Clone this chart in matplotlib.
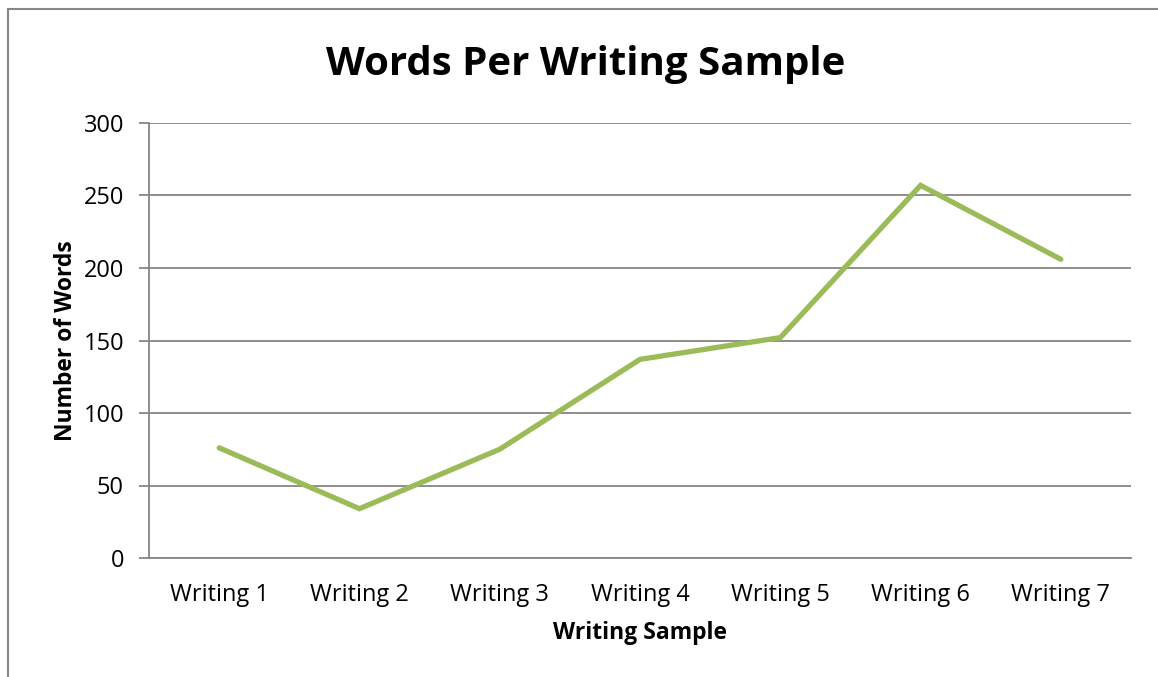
import matplotlib
matplotlib.use('Agg')
import matplotlib.pyplot as plt
from matplotlib.patches import Rectangle

plt.rcParams['font.family'] = ['Open Sans', 'DejaVu Sans']

# data
samples = ['Writing 1', 'Writing 2', 'Writing 3', 'Writing 4',
           'Writing 5', 'Writing 6', 'Writing 7']
words = [76, 34, 75, 137, 152, 257, 206]
y_ticks = [0, 50, 100, 150, 200, 250, 300]

grid_grey = '#868686'
line_green = '#9BBB59'

fig = plt.figure(figsize=(11.58, 6.77), dpi=100)
ax = fig.add_axes([149 / 1158, 1 - 558 / 677, (1131 - 149) / 1158, (558 - 123) / 677])

# outer chart-area border (right / bottom edges fall outside the image)
fig.patches.append(Rectangle((8 / 1158, -0.1), 1.2, 1 - 9 / 677 + 0.1,
                             transform=fig.transFigure, fill=False,
                             edgecolor=grid_grey, linewidth=1.5))

x = list(range(len(samples)))
ax.plot(x, words, color=line_green, linewidth=3.8, solid_capstyle='round',
        solid_joinstyle='miter', zorder=3)

ax.set_xlim(-0.5, len(samples) - 0.5)
ax.set_ylim(0, 300)
ax.set_yticks(y_ticks)
ax.set_xticks(x)
ax.set_xticklabels(samples)
ax.yaxis.grid(True, color=grid_grey, linewidth=1.3)
ax.set_axisbelow(True)

for side in ['top', 'right']:
    ax.spines[side].set_visible(False)
for side in ['left', 'bottom']:
    ax.spines[side].set_color(grid_grey)
    ax.spines[side].set_linewidth(1.3)

ax.tick_params(axis='y', direction='out', length=7, width=1.3, color=grid_grey,
               labelsize=17, pad=11)
ax.tick_params(axis='x', length=0, labelsize=17, pad=18)

ax.set_xlabel('Writing Sample', fontsize=16.5, fontweight='bold', labelpad=10)
ax.set_ylabel('Number of Words', fontsize=16.5, fontweight='bold', labelpad=4)
fig.text(586 / 1158, 1 - 64 / 677, 'Words Per Writing Sample', fontsize=29,
         fontweight='bold', ha='center', va='center')

fig.savefig('out.png', dpi=100, facecolor='white')
